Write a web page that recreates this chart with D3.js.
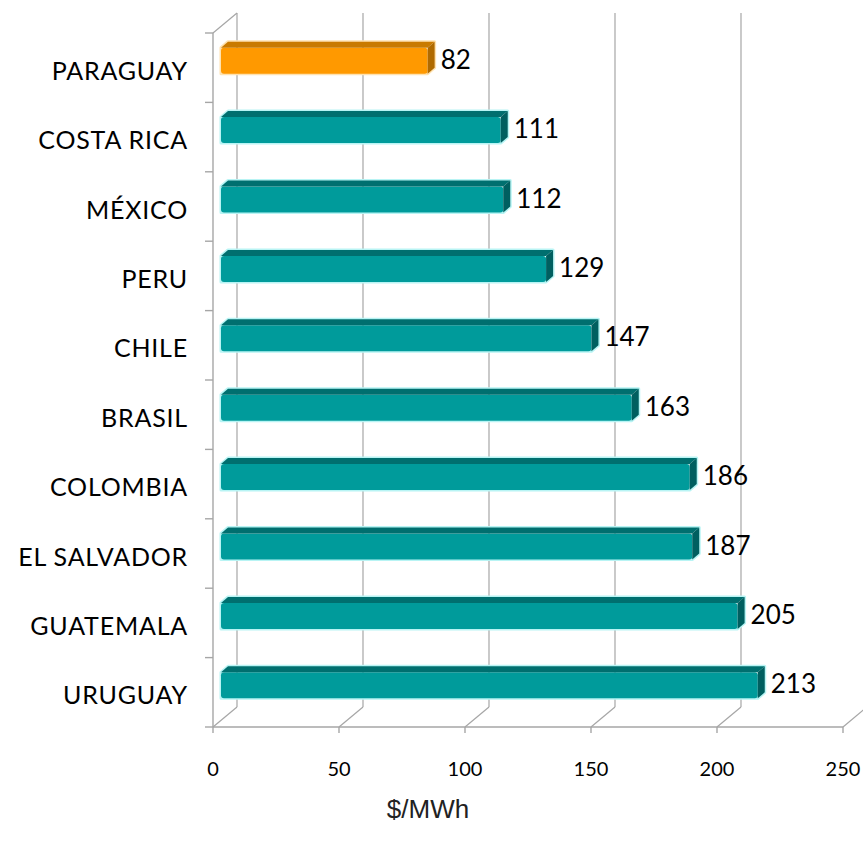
<html>
<head>
  <meta charset="utf-8">
  <script src="https://d3js.org/d3.v7.min.js"></script>
  <style>
    body { margin: 0; background: #fff; }
    .cat { font-family: Lato, "Open Sans", sans-serif; font-size: 25px; letter-spacing: 0.8px; fill: #000; }
    .val { font-family: Lato, "Open Sans", sans-serif; font-size: 26px; fill: #000; }
    .tick-x { font-family: Lato, "Open Sans", sans-serif; font-size: 20px; fill: #000; }
    .title { font-family: "Liberation Sans", Arial, sans-serif; font-size: 26px; fill: #222; }
  </style>
</head>
<body>
  <div id="chart"></div>
  <script>
    // data
    var countries = ['PARAGUAY', 'COSTA RICA', 'MÉXICO', 'PERU', 'CHILE', 'BRASIL',
                     'COLOMBIA', 'EL SALVADOR', 'GUATEMALA', 'URUGUAY'];
    var values = [82, 111, 112, 129, 147, 163, 186, 187, 205, 213];
    var highlight = ['PARAGUAY'];
    var xTicks = [0, 50, 100, 150, 200, 250];
    var axisTitle = '$/MWh';

    var W = 863, H = 849;
    var svg = d3.select('#chart').append('svg')
        .attr('width', W).attr('height', H);

    // scales (front plane)
    var x = d3.scaleLinear().domain([0, 250]).range([213, 843]);
    var y = d3.scaleBand().domain(countries).range([33, 727]);

    // 3d offsets
    var wallDx = 24, wallDy = -20;   // depth of the walls
    var barDx = 8, barDy = -7;       // bar front face offset
    var bdx = 7, bdy = -6;           // bar thickness in depth
    var barH = 26;
    var base = y.range()[1];

    var grid = '#a6a6a6';

    // back wall gridlines
    svg.selectAll('.gline').data(xTicks.slice(1)).enter().append('line')
        .attr('x1', function(d) { return x(d) + wallDx; })
        .attr('x2', function(d) { return x(d) + wallDx; })
        .attr('y1', y.range()[0] + wallDy).attr('y2', base + wallDy)
        .attr('stroke', grid).attr('stroke-width', 1.2);

    // floor diagonals
    svg.selectAll('.fline').data(xTicks).enter().append('line')
        .attr('x1', function(d) { return x(d); })
        .attr('x2', function(d) { return x(d) + wallDx; })
        .attr('y1', base).attr('y2', base + wallDy)
        .attr('stroke', grid).attr('stroke-width', 1.2);

    // left wall
    svg.append('line')
        .attr('x1', x(0) + wallDx).attr('x2', x(0) + wallDx)
        .attr('y1', y.range()[0] + wallDy).attr('y2', base + wallDy)
        .attr('stroke', grid).attr('stroke-width', 1.2);
    svg.append('line')
        .attr('x1', x(0)).attr('x2', x(0) + wallDx)
        .attr('y1', y.range()[0]).attr('y2', y.range()[0] + wallDy)
        .attr('stroke', grid).attr('stroke-width', 1.2);
    svg.append('line')
        .attr('x1', x(0)).attr('x2', x(0))
        .attr('y1', y.range()[0]).attr('y2', base)
        .attr('stroke', grid).attr('stroke-width', 1.4);

    // left ticks
    var yTickPos = countries.map(function(c) { return y(c); }).concat([base]);
    svg.selectAll('.ytick').data(yTickPos).enter().append('line')
        .attr('x1', x(0) - 8).attr('x2', x(0))
        .attr('y1', function(d) { return d; }).attr('y2', function(d) { return d; })
        .attr('stroke', grid).attr('stroke-width', 1.4);

    // bottom axis
    svg.append('line')
        .attr('x1', x(0)).attr('x2', x(250))
        .attr('y1', base).attr('y2', base)
        .attr('stroke', grid).attr('stroke-width', 1.4);
    svg.selectAll('.xtick').data(xTicks).enter().append('line')
        .attr('x1', function(d) { return x(d); }).attr('x2', function(d) { return x(d); })
        .attr('y1', base).attr('y2', base + 6)
        .attr('stroke', grid).attr('stroke-width', 1.4);

    svg.selectAll('.tick-x').data(xTicks).enter().append('text')
        .attr('class', 'tick-x')
        .attr('x', function(d) { return x(d); })
        .attr('y', 768)
        .attr('text-anchor', 'middle')
        .attr('dominant-baseline', 'central')
        .text(function(d) { return d; });

    // bars
    var data = countries.map(function(c, i) { return {name: c, value: values[i]}; });

    function colors(d) {
      if (highlight.indexOf(d.name) >= 0)
        return {front: '#ff9900', top: '#c97a00', side: '#b06a00', glow: '#ffe2b0'};
      return {front: '#009b9b', top: '#006f6f', side: '#005f60', glow: '#b8f4f4'};
    }

    var bars = svg.selectAll('.bar').data(data).enter().append('g').attr('class', 'bar');

    bars.each(function(d) {
      var g = d3.select(this);
      var c = colors(d);
      var cy = y(d.name) + y.bandwidth() / 2 + barDy;
      var x0 = x(0) + barDx, x1 = x(d.value) + barDx;
      var yt = cy - barH / 2, yb = cy + barH / 2;

      // glow outline
      g.append('path')
          .attr('d', 'M' + x0 + ',' + yt + 'L' + (x0 + bdx) + ',' + (yt + bdy) +
               'L' + (x1 + bdx) + ',' + (yt + bdy) + 'L' + (x1 + bdx) + ',' + (yb + bdy) +
               'L' + x1 + ',' + yb + 'L' + x0 + ',' + yb + 'Z')
          .attr('fill', 'none').attr('stroke', c.glow).attr('stroke-width', 3)
          .attr('stroke-linejoin', 'round');
      // front
      g.append('rect')
          .attr('x', x0).attr('y', yt)
          .attr('width', x1 - x0).attr('height', barH)
          .attr('rx', 3)
          .attr('fill', c.front);
      // top
      g.append('path')
          .attr('d', 'M' + x0 + ',' + yt + 'L' + x1 + ',' + yt +
               'L' + (x1 + bdx) + ',' + (yt + bdy) + 'L' + (x0 + bdx) + ',' + (yt + bdy) + 'Z')
          .attr('fill', c.top);
      // side
      g.append('path')
          .attr('d', 'M' + x1 + ',' + yt + 'L' + (x1 + bdx) + ',' + (yt + bdy) +
               'L' + (x1 + bdx) + ',' + (yb + bdy) + 'L' + x1 + ',' + yb + 'Z')
          .attr('fill', c.side);

      g.append('text')
          .attr('class', 'val')
          .attr('x', x1 + bdx + 6)
          .attr('y', cy - 2)
          .attr('dominant-baseline', 'central')
          .text(d.value);
    });

    // category labels
    svg.selectAll('.cat').data(countries).enter().append('text')
        .attr('class', 'cat')
        .attr('x', 188)
        .attr('y', function(d) { return y(d) + y.bandwidth() / 2 + 2; })
        .attr('text-anchor', 'end')
        .attr('dominant-baseline', 'central')
        .text(function(d) { return d; });

    // axis title
    svg.append('text')
        .attr('class', 'title')
        .attr('x', 428).attr('y', 809)
        .attr('text-anchor', 'middle')
        .attr('dominant-baseline', 'central')
        .text(axisTitle);
  </script>
</body>
</html>
